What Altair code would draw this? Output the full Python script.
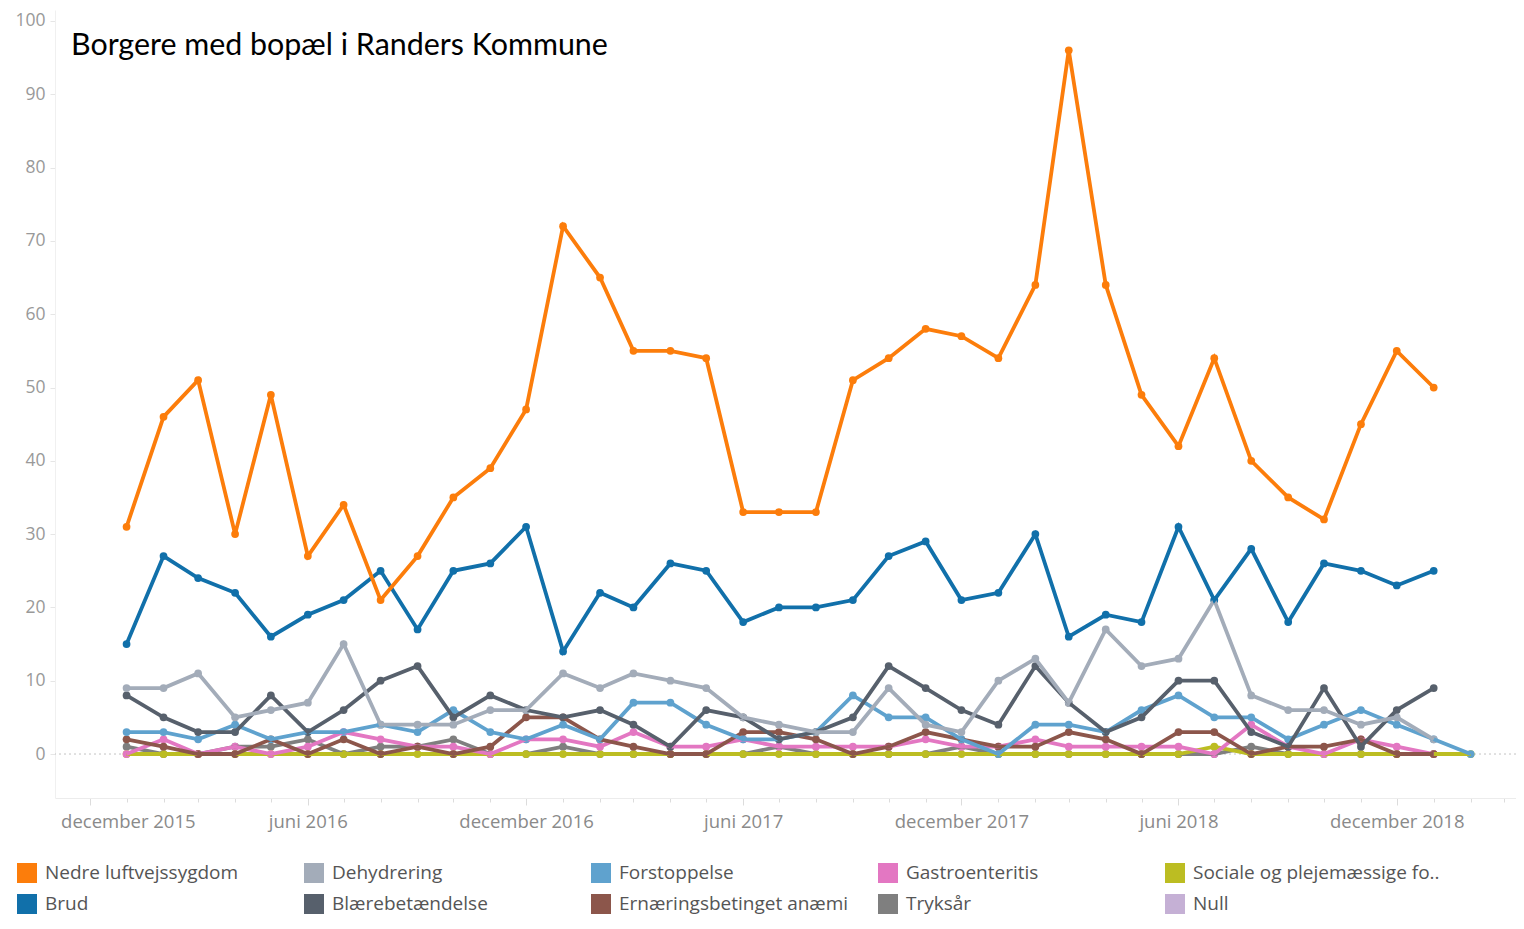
import altair as alt
import pandas as pd

# Months: January 2016 .. February 2019 (first day of each month)
months = pd.date_range("2016-01-01", periods=38, freq="MS").strftime("%Y-%m-%d").tolist()

nedre_luftvejssygdom = [31, 46, 51, 30, 49, 27, 34, 21, 27, 35, 39, 47, 72, 65, 55, 55, 54, 33, 33, 33,
                        51, 54, 58, 57, 54, 64, 96, 64, 49, 42, 54, 40, 35, 32, 45, 55, 50]
brud = [15, 27, 24, 22, 16, 19, 21, 25, 17, 25, 26, 31, 14, 22, 20, 26, 25, 18, 20, 20,
        21, 27, 29, 21, 22, 30, 16, 19, 18, 31, 21, 28, 18, 26, 25, 23, 25]
dehydrering = [9, 9, 11, 5, 6, 7, 15, 4, 4, 4, 6, 6, 11, 9, 11, 10, 9, 5, 4, 3,
               3, 9, 4, 3, 10, 13, 7, 17, 12, 13, 21, 8, 6, 6, 4, 5, 2]
blaerebetaendelse = [8, 5, 3, 3, 8, 3, 6, 10, 12, 5, 8, 6, 5, 6, 4, 1, 6, 5, 2, 3,
                     5, 12, 9, 6, 4, 12, 7, 3, 5, 10, 10, 3, 1, 9, 1, 6, 9]
forstoppelse = [3, 3, 2, 4, 2, 3, 3, 4, 3, 6, 3, 2, 4, 2, 7, 7, 4, 2, 2, 3,
                8, 5, 5, 2, 0, 4, 4, 3, 6, 8, 5, 5, 2, 4, 6, 4, 2, 0]
ernaeringsbetinget = [2, 1, 0, 0, 2, 0, 2, 0, 1, 0, 1, 5, 5, 2, 1, 0, 0, 3, 3, 2,
                      0, 1, 3, 2, 1, 1, 3, 2, 0, 3, 3, 0, 1, 1, 2, 0, 0]
gastroenteritis = [0, 2, 0, 1, 0, 1, 3, 2, 1, 1, 0, 2, 2, 1, 3, 1, 1, 2, 1, 1,
                   1, 1, 2, 1, 1, 2, 1, 1, 1, 1, 0, 4, 1, 0, 2, 1, 0]
tryksaar = [1, 0, 0, 1, 1, 2, 0, 1, 1, 2, 0, 0, 1, 0, 0, 0, 0, 0, 1, 0,
            0, 0, 0, 1, 0, 0, 0, 0, 0, 0, 0, 1, 0, 0, 0, 0, 0]
sociale = [0, 0, 0, 0, 0, 0, 0, 0, 0, 0, 0, 0, 0, 0, 0, 0, 0, 0, 0, 0,
           0, 0, 0, 0, 0, 0, 0, 0, 0, 0, 1, 0, 0, 0, 0, 0, 0, 0]

# drawing order (first drawn at the bottom)
series = [
    ("Tryksår", tryksaar),
    ("Sociale og plejemæssige fo..", sociale),
    ("Gastroenteritis", gastroenteritis),
    ("Ernæringsbetinget anæmi", ernaeringsbetinget),
    ("Forstoppelse", forstoppelse),
    ("Blærebetændelse", blaerebetaendelse),
    ("Dehydrering", dehydrering),
    ("Brud", brud),
    ("Nedre luftvejssygdom", nedre_luftvejssygdom),
]

# legend order (column-major, 2 rows x 5 columns)
legend_names = ["Nedre luftvejssygdom", "Brud", "Dehydrering", "Blærebetændelse",
                "Forstoppelse", "Ernæringsbetinget anæmi", "Gastroenteritis", "Tryksår",
                "Sociale og plejemæssige fo..", "Null"]
legend_colors = ["#FC7D0B", "#1170AA", "#A3ACB9", "#57606C", "#5FA2CE",
                 "#8C564B", "#E377C2", "#7F7F7F", "#BCBD22", "#C5B0D5"]

y_ticks = [0, 10, 20, 30, 40, 50, 60, 70, 80, 90, 100]
title_text = "Borgere med bopæl i Randers Kommune"

rows = []
for name, vals in series:
    for m, v in zip(months, vals):
        rows.append({"month": m, "diagnose": name, "antal": v})
df = pd.DataFrame(rows)

tick_months = pd.date_range("2015-12-01", "2019-03-01", freq="MS")
x_values = [alt.DateTime(year=int(d.year), month=int(d.month), date=1, utc=True) for d in tick_months]

label_expr = ("utcmonth(datum.value) == 11 ? 'december ' + utcyear(datum.value) : "
              "(utcmonth(datum.value) == 5 ? 'juni ' + utcyear(datum.value) : '')")

x_enc = alt.X(
    "month:T",
    scale=alt.Scale(type="utc",
                    domain=[alt.DateTime(year=2015, month=11, date=2, utc=True),
                            alt.DateTime(year=2019, month=3, date=11, utc=True)]),
    axis=alt.Axis(values=x_values, labelExpr=label_expr, title=None, grid=False,
                  tickSize={"condition": {"test": "utcmonth(datum.value) == 5 || utcmonth(datum.value) == 11",
                                          "value": 7}, "value": 4},
                  tickColor="#dcdcdc", domainColor="#ececec",
                  labelColor="#8a8a8a", labelFont="Open Sans", labelFontSize=18.5,
                  labelPadding=7, labelFlush=40, labelFlushOffset=29, labelOverlap=False),
)
y_enc = alt.Y(
    "antal:Q",
    scale=alt.Scale(domain=[-6, 101.5], nice=False, zero=False),
    axis=alt.Axis(values=y_ticks, title=None, grid=False, tickSize=5, tickColor="#e6e6e6",
                  domainColor="#f0f0f0", labelColor="#999999", labelFont="Open Sans",
                  labelFontSize=17.5, labelPadding=5),
)
color_enc = alt.Color(
    "diagnose:N",
    scale=alt.Scale(domain=legend_names, range=legend_colors),
    legend=alt.Legend(orient="none", legendX=-38, legendY=853, columns=5, title=None,
                      symbolType="square", symbolSize=400, symbolStrokeWidth=0,
                      labelFont="Open Sans", labelFontSize=19, labelColor="#555555",
                      labelLimit=400, labelOffset=8, columnPadding=12, rowPadding=11,
                      gridAlign="all"),
)

base = alt.Chart(df)
points = base.mark_point(filled=True, size=60, opacity=1).encode(x=x_enc, y=y_enc, color=color_enc)
lines = base.mark_line(strokeWidth=3.8).encode(x=x_enc, y=y_enc, color=color_enc)

zero_rule = alt.Chart(pd.DataFrame({"y": [0]})).mark_rule(
    color="#c4c4c4", strokeDash=[2, 3], strokeWidth=1).encode(y="y:Q")

title_layer = alt.Chart(pd.DataFrame({"t": [title_text]})).mark_text(
    align="left", baseline="alphabetic", font="Lato", fontSize=30.4, color="#000000"
).encode(text="t:N", x=alt.value(16), y=alt.value(45))

chart = alt.layer(zero_rule, points, lines, title_layer).properties(
    width=1461, height=788,
    autosize=alt.AutoSizeParams(type="none"),
    padding={"left": 47, "top": 2, "right": 0, "bottom": 120},
).configure_view(strokeWidth=0)

chart.save("out.html", embed_options={"renderer": "svg", "actions": False})
